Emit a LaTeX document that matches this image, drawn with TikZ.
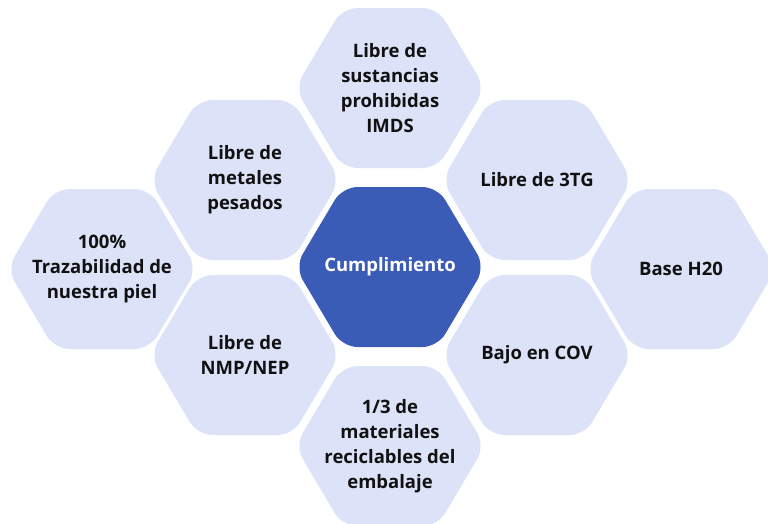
\documentclass[tikz,border=0pt]{standalone}
\usepackage{fontspec}
\setmainfont{Open Sans}
\definecolor{hexlight}{RGB}{220,226,248}
\definecolor{hexdark}{RGB}{58,91,182}
\definecolor{txtdark}{RGB}{17,17,17}
\begin{document}
\begin{tikzpicture}[x=1pt,y=-1pt,
  hexfill/.style={fill=hexlight,rounded corners=15pt},
  hexcenter/.style={fill=hexdark,rounded corners=15pt},
  hexlabel/.style={align=center,text=txtdark,font=\fontsize{18.5}{25}\selectfont\bfseries},
  centerlabel/.style={align=center,text=white,font=\fontsize{18.5}{25}\selectfont\bfseries}]
\useasboundingbox (0,0) rectangle (768,523);
\newcommand{\hexshape}[2]{\path[#2] (#1) ++(95,0) -- ++(-47.5,80) -- ++(-95,0) -- ++(-47.5,-80) -- ++(47.5,-80) -- ++(95,0) -- cycle;}
\coordinate (c) at (390,267);
\coordinate (t) at (390,88);
\coordinate (b) at (390,446);
\coordinate (ul) at (245,180);
\coordinate (ur) at (537,180);
\coordinate (ll) at (245,355);
\coordinate (lr) at (537,355);
\coordinate (fl) at (102,269);
\coordinate (fr) at (681,269);
\foreach \h in {t,b,ul,ur,ll,lr,fl,fr}{\hexshape{\h}{hexfill}}
\hexshape{c}{hexcenter}
\node[centerlabel] (nc) at (c) {Cumplimiento};
\node[hexlabel] (nt) at (t) {Libre de\\sustancias\\prohibidas\\IMDS};
\node[hexlabel] (nb) at (b) {1/3 de\\materiales\\reciclables del\\embalaje};
\node[hexlabel] (nul) at (ul) {Libre de\\metales\\pesados};
\node[hexlabel] (nur) at (ur) {Libre de 3TG};
\node[hexlabel] (nll) at (ll) {Libre de\\NMP/NEP};
\node[hexlabel] (nlr) at (lr) {Bajo en COV};
\node[hexlabel] (nfl) at (fl) {100\%\\Trazabilidad de\\nuestra piel};
\node[hexlabel] (nfr) at (fr) {Base H20};
\end{tikzpicture}
\end{document}
